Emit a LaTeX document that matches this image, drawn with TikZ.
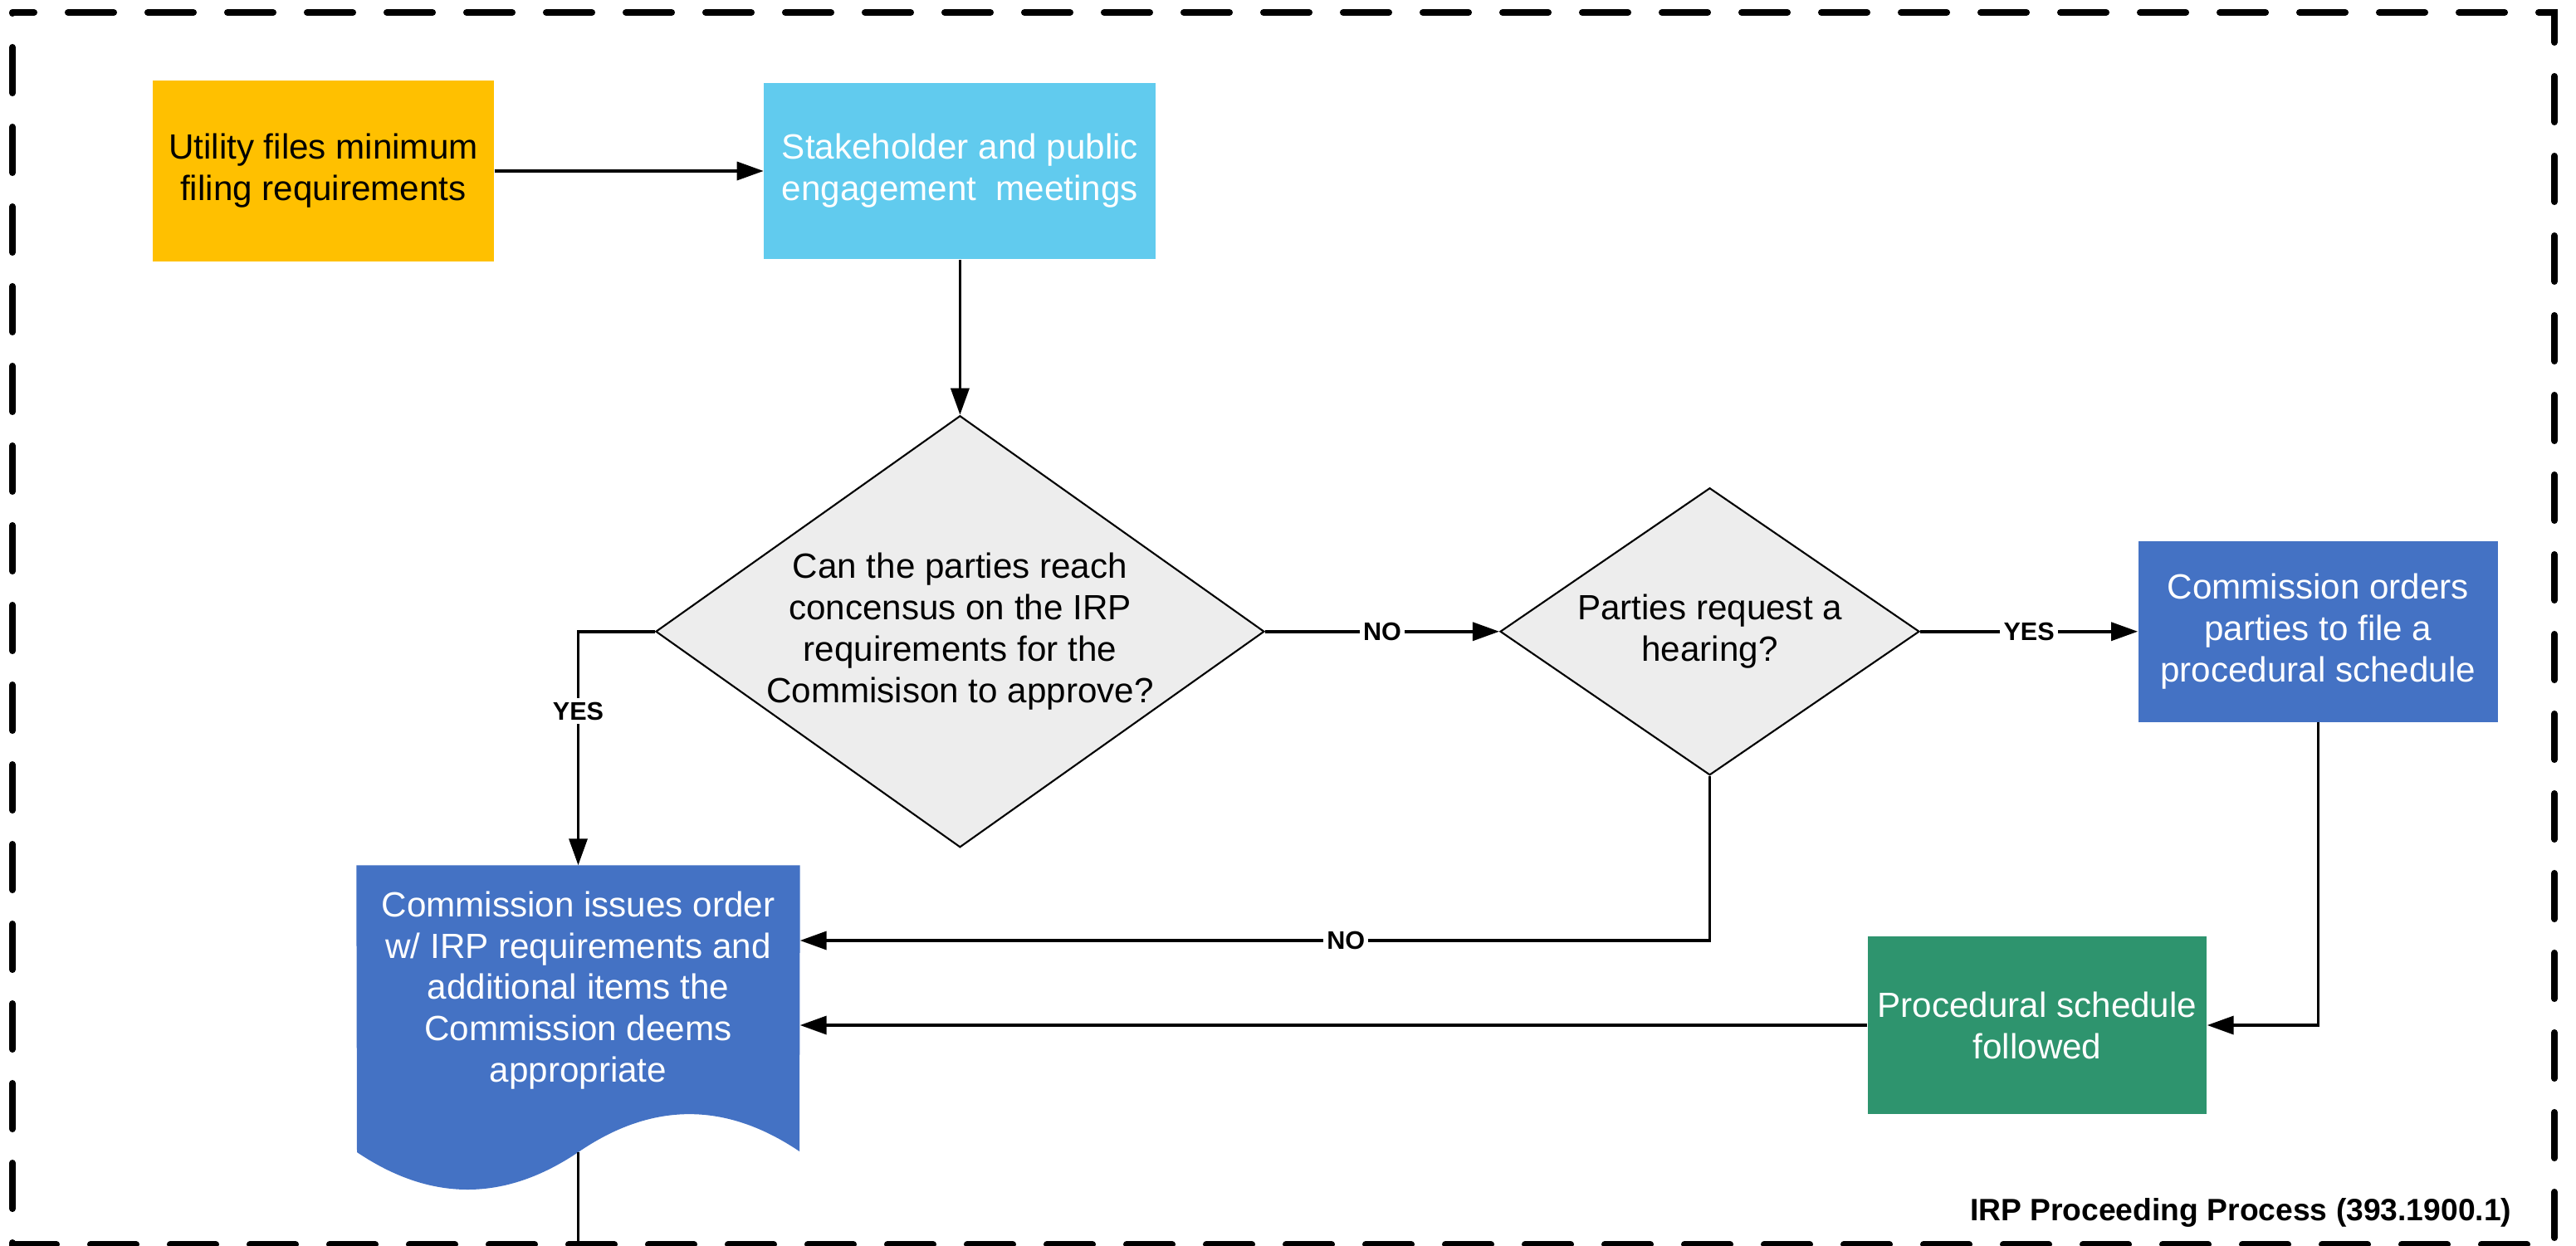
\documentclass[tikz,border=0pt]{standalone}
\usepackage{fontspec}
\setmainfont{Liberation Sans}
\usepackage{tikz}
\usetikzlibrary{shapes,positioning,backgrounds,arrows.meta}
\definecolor{utilgold}{RGB}{255,192,0}
\definecolor{meetcyan}{RGB}{97,203,238}
\definecolor{cmblue}{RGB}{68,114,196}
\definecolor{schedgreen}{RGB}{46,148,110}
\definecolor{askgrey}{RGB}{237,237,237}
\tikzset{
  >={Triangle[length=3.2mm,width=2.2mm]},
  flow/.style={->,line width=1pt},
  rectnode/.style args={#1,#2}{
  rectangle,
  inner sep=0pt,
  align=center,
  font=\fontsize{12}{14.2}\selectfont,
  minimum width=#1 cm,
  minimum height=#2 cm,
  },
  goldbox/.style={fill=utilgold,text=black},
  cyanbox/.style={fill=meetcyan,text=white},
  bluebox/.style={fill=cmblue,text=white},
  greenbox/.style={fill=schedgreen,text=white},
  decision/.style args={#1,#2}{
  diamond,
  draw=black,
  line width=0.6pt,
  fill=askgrey,
  inner sep=0pt,
  align=center,
  font=\fontsize{12}{14.2}\selectfont,
  minimum width=#1 cm,
  minimum height=#2 cm,
  },
  yn/.style={font=\fontsize{8.7}{10}\selectfont\bfseries,fill=white,inner sep=1.2pt},
  frame/.style={line width=2.3pt,line cap=round,dash pattern=on 5.5mm off 4.1mm,dash phase=2.9mm}
}
\begin{document}
\begin{tikzpicture}
  \useasboundingbox (0,0) rectangle (31.03,-15.01);

  \draw[frame] (0.15,-0.15) -- (30.77,-0.15) -- (30.77,-14.99) -- (0.15,-14.99) -- cycle;

  \node [rectnode={4.11,2.18},goldbox] (util) at (3.895,-2.06) {Utility files minimum\\filing requirements};
  \node [rectnode={4.72,2.12},cyanbox,right=3.24cm of util] (meet) {Stakeholder and public\\engagement\ \ meetings};
  \node [decision={7.31,5.20},aspect=1.41,below=1.87cm of meet] (consensus) {Can the parties reach\\concensus on the IRP\\requirements for the\\Commisison to approve?};
  \node [decision={5.05,3.46},aspect=1.46,right=2.82cm of consensus] (hearing) {Parties request a\\hearing?};
  \node [rectnode={4.33,2.18},bluebox,right=2.62cm of hearing] (orders) {Commission orders\\parties to file a\\procedural schedule};
  \node [rectnode={4.08,2.14},greenbox] (followed) at (24.54,-12.35) {Procedural schedule\\followed};
  \node [rectnode={5.33,3.00},text=white] (issue) at (6.965,-11.93) {Commission issues order\\w/ IRP requirements and\\additional items the\\Commission deems\\appropriate};
  \coordinate (issuebot) at (6.965,-13.88);
  \coordinate (exit) at (6.965,-15.01);

  \begin{scope}[on background layer]
    \fill[cmblue] (issue.north west) -- (issue.north east) -- (9.63,-13.87)
      .. controls (8.74,-13.27) and (7.855,-13.27) .. (issuebot)
      .. controls (6.075,-14.48) and (5.19,-14.48) .. (4.30,-13.88) -- cycle;
  \end{scope}

  \draw[flow] (util) -- (meet);
  \draw[flow] (meet) -- (consensus);
  \draw[flow] (consensus) -- node[yn]{NO} (hearing);
  \draw[flow] (hearing) -- node[yn]{YES} (orders);
  \draw[flow] (consensus.west) -| node[yn,pos=0.67]{YES} (issue.north);
  \draw[flow] (hearing.south) |- node[yn,pos=0.70]{NO} ([yshift=6mm]issue.east);
  \draw[flow] (orders.south) |- (followed.east);
  \draw[flow] (followed.west) -- (followed.west -| issue.east);
  \draw[line width=1pt] (issuebot) -- (exit);

  \node [anchor=base east,inner sep=0pt,font=\fontsize{10.6}{12}\selectfont\bfseries] (title) at (30.26,-14.70) {IRP Proceeding Process (393.1900.1)};
\end{tikzpicture}
\end{document}
